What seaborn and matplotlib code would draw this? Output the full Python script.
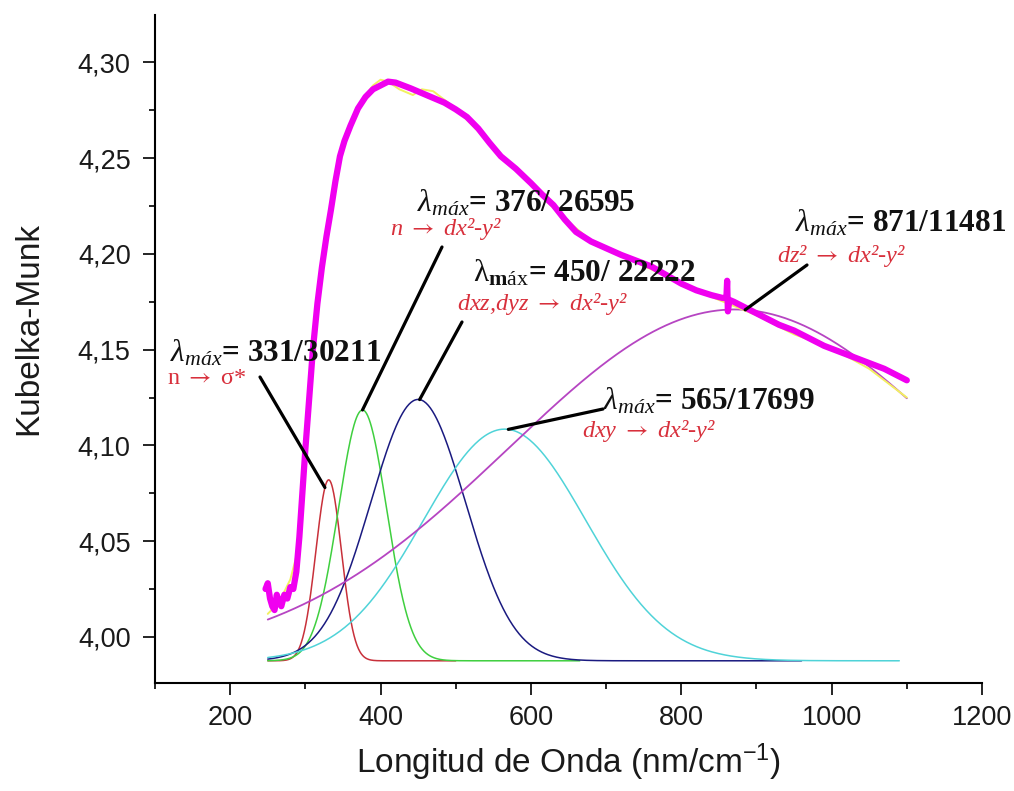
import numpy as np
import pandas as pd
import matplotlib
matplotlib.use("Agg")
import matplotlib.pyplot as plt
from matplotlib.ticker import MultipleLocator, FuncFormatter
import seaborn as sns

# ---------------- data ----------------
# experimental Kubelka-Munk spectrum (thick magenta)
data_nm = [247, 250, 253, 256, 259, 262, 265, 268, 272, 276, 280, 284, 288, 292, 296,
           300, 305, 310, 316, 322, 328, 334, 340, 346, 352, 360, 370, 380, 390,
           400, 410, 420, 430, 440, 455, 470, 485, 500, 515, 530, 545, 560, 580, 600,
           615, 630, 645, 660, 680, 700, 720, 740, 760, 780, 800, 820, 840, 855, 860, 861,
           862, 864, 870, 890, 910, 930, 950, 970, 990, 1010, 1030, 1050, 1070, 1090, 1100]
data_km = [4.025, 4.028, 4.020, 4.016, 4.014, 4.022, 4.018, 4.016, 4.022, 4.020, 4.026, 4.025, 4.034, 4.052, 4.075,
           4.098, 4.124, 4.150, 4.174, 4.193, 4.209, 4.223, 4.238, 4.251, 4.259, 4.267, 4.276, 4.282, 4.286,
           4.288, 4.290, 4.2895, 4.288, 4.2865, 4.284, 4.2815, 4.279, 4.2755, 4.2715, 4.2655, 4.258, 4.251, 4.2445, 4.237,
           4.231, 4.2255, 4.218, 4.2115, 4.2065, 4.203, 4.1995, 4.1965, 4.1935, 4.189, 4.1845, 4.181, 4.1785, 4.177, 4.177, 4.186,
           4.170, 4.176, 4.175, 4.171, 4.167, 4.163, 4.160, 4.156, 4.152, 4.149, 4.146, 4.143, 4.140, 4.136, 4.134]

# cumulative fit (thin yellow)
fit_nm = [250, 260, 270, 280, 290, 300, 310, 320, 330, 340, 350, 360, 375, 390, 400, 410, 425,
          443, 455, 470, 490, 510, 530, 560, 600, 640, 680, 720, 760, 800, 850, 900, 950, 1000, 1050, 1100]
fit_km = [4.012, 4.016, 4.022, 4.030, 4.045, 4.095, 4.150, 4.190, 4.215, 4.235, 4.255, 4.268, 4.280, 4.288, 4.291, 4.290, 4.286,
          4.283, 4.286, 4.285, 4.279, 4.272, 4.264, 4.251, 4.236, 4.220, 4.207, 4.199, 4.192, 4.184, 4.176, 4.168, 4.158, 4.151, 4.140, 4.125]

# Gaussian components
peak_value = ["331/30211", "376/ 26595", "450/ 22222", "565/17699", "871/11481"]
peak_center = [331, 376, 450, 565, 871]
peak_height = [0.0945, 0.131, 0.1365, 0.121, 0.1835]
peak_sigma = [17, 32, 63, 108, 300]
peak_start = [250, 250, 250, 250, 250]
peak_end = [500, 665, 960, 1090, 1100]
baseline = 3.9875
transition = ["n → σ*", "n → dx²-y²", "dxz,dyz → dx²-y²", "dxy → dx²-y²", "dz² → dx²-y²"]
peak_colors = ["#C8303A", "#3FCF3F", "#1A1A80", "#4FD3D8", "#B645C2"]

# ---------------- figure ----------------
sns.set_theme(style="ticks")
plt.rcParams["font.family"] = ["Liberation Sans", "DejaVu Sans"]
plt.rcParams["mathtext.fontset"] = "custom"
plt.rcParams["mathtext.rm"] = "Liberation Serif"
plt.rcParams["mathtext.it"] = "Liberation Serif:italic"
plt.rcParams["mathtext.bf"] = "Liberation Serif:bold"
plt.rcParams["mathtext.sf"] = "Liberation Sans"

W, H = 1014, 791
fig = plt.figure(figsize=(W / 100, H / 100), dpi=100)
ax = fig.add_axes([155 / W, (H - 683) / H, 827 / W, 668 / H])

rows = []
for i in range(len(peak_center)):
    xs = np.linspace(peak_start[i], peak_end[i], 500)
    ys = baseline + peak_height[i] * np.exp(-0.5 * ((xs - peak_center[i]) / peak_sigma[i]) ** 2)
    rows.append(pd.DataFrame({"nm": xs, "km": ys, "peak": peak_value[i]}))
comp = pd.concat(rows, ignore_index=True)

for i, pv in enumerate(peak_value):
    sub = comp[comp["peak"] == pv]
    sns.lineplot(data=sub, x="nm", y="km", ax=ax, color=peak_colors[i],
                 lw=1.3 if i == 4 else 1.1, sort=False, estimator=None)

sns.lineplot(x=fit_nm, y=fit_km, ax=ax, color="#F2F060", lw=1.4, sort=False, estimator=None)
sns.lineplot(x=data_nm, y=data_km, ax=ax, color="#F000F0", lw=4.5, sort=False, estimator=None)
ax.lines[-1].set_solid_joinstyle("round")
ax.lines[-1].set_solid_capstyle("round")

ax.set_xlim(100, 1200)
ax.set_ylim(3.9759, 4.3248)
sns.despine(ax=ax)
for s in ["left", "bottom"]:
    ax.spines[s].set_linewidth(1.5)
    ax.spines[s].set_color("black")

ax.xaxis.set_major_locator(MultipleLocator(200))
ax.xaxis.set_minor_locator(MultipleLocator(100))
ax.yaxis.set_major_locator(MultipleLocator(0.05))
ax.yaxis.set_minor_locator(MultipleLocator(0.025))
ax.yaxis.set_major_formatter(FuncFormatter(lambda v, p: f"{v:.2f}".replace(".", ",")))
ax.tick_params(axis="both", which="major", direction="out", length=8.5, width=1.2,
               color="black", labelsize=19.5, labelcolor="#1a1a1a")
ax.tick_params(axis="both", which="minor", direction="out", length=4.5, width=1.2, color="black")
ax.tick_params(axis="y", which="major", pad=9)
ax.tick_params(axis="x", which="major", pad=7)

ax.set_xlabel(r"Longitud de Onda (nm/cm$\mathsf{^{-1}}$)", fontsize=24, color="#1a1a1a")
ax.set_ylabel("Kubelka-Munk", fontsize=24, color="#1a1a1a")
ax.xaxis.set_label_coords(0.5, -0.088)
ax.yaxis.set_label_coords(-0.134, 0.531)

# ---------------- annotations ----------------
def fx(px):
    return px / W

def fy(py):
    return 1 - py / H

label_pos = [(170, 362), (417, 212), (473, 282), (603, 410), (795, 232)]
trans_pos = [(167, 384), (390, 235), (457, 310), (582, 437), (777, 262)]
line_start = [(260, 377), (442, 247), (462, 322), (603, 409), (807, 265)]
line_end_nm = [326, 376, 452, 570, 885]

for i in range(len(peak_value)):
    lam = r"$\lambda_{máx}$" if i != 2 else r"$\mathrm{\lambda}_{\mathbf{m}\mathrm{áx}}$"
    fig.text(fx(label_pos[i][0]), fy(label_pos[i][1]), lam + "= " + peak_value[i],
             fontsize=22.5, fontweight="bold", family=["Liberation Serif", "DejaVu Serif"],
             color="#111111", ha="left", va="baseline")
    fig.text(fx(trans_pos[i][0]), fy(trans_pos[i][1]),
             transition[i].replace("→", r"$\rightarrow$"),
             fontsize=17.5, style="normal" if i == 0 else "italic",
             family=["Liberation Serif", "DejaVu Serif"], math_fontfamily="stix",
             color="#D8303C", ha="left", va="baseline")
    xe = line_end_nm[i]
    ye = baseline + peak_height[i] * np.exp(-0.5 * ((xe - peak_center[i]) / peak_sigma[i]) ** 2)
    ax.annotate("", xy=(xe, ye), xycoords="data",
                xytext=(fx(line_start[i][0]), fy(line_start[i][1])), textcoords="figure fraction",
                arrowprops=dict(arrowstyle="-", lw=2.3, color="black", shrinkA=0, shrinkB=0))

fig.savefig("out.png", dpi=100)
